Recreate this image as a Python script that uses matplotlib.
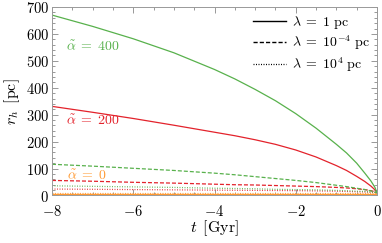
import matplotlib
matplotlib.use("Agg")
import matplotlib.pyplot as plt
from matplotlib.ticker import MultipleLocator, FixedLocator
from matplotlib.lines import Line2D

plt.rcParams['mathtext.fontset'] = 'cm'
plt.rcParams['font.family'] = ['DejaVu Serif']

# time grid [Gyr]
t = [-8, -7, -6, -5, -4, -3.5, -3, -2.5, -2, -1.5, -1, -0.75, -0.5, -0.3, -0.15, -0.05, 0]

# r_h [pc], alpha=400
g_solid  = [670, 628, 582, 530, 468, 433, 394, 352, 304, 250, 190, 158, 120, 83, 54, 30, 10]
g_dashed = [116, 109, 101, 93, 83, 77, 70, 63, 56, 48, 38, 33, 27, 22, 17, 13, 10]
g_dotted = [36, 34, 32, 30, 27, 26, 25, 23, 22, 21, 19, 18, 16, 15, 13, 12, 10]
# alpha=200
r_solid  = [331, 309, 286, 261, 235, 222, 207, 190, 169, 143, 111, 93, 71, 52, 35, 21, 10]
r_dashed = [56, 53, 49, 46, 42, 40, 39, 37, 35, 33, 30, 28, 25, 22, 18, 14, 10]
r_dotted = [24, 23, 22, 21, 20, 19.5, 19, 18.5, 18, 17, 16, 15, 14, 13, 12, 11, 10]
# alpha=0
o_solid  = [7, 7, 7, 7, 7, 7, 7, 7, 7, 7, 7, 7, 7, 7, 7, 7, 7]
o_dashed = [7, 7, 7, 7, 7, 7, 7, 7, 7, 7, 7, 7, 7, 7, 7, 7, 7]
o_dotted = [9, 9, 9, 9, 9, 9, 9, 9, 9, 9, 9, 9, 9, 9, 9, 9, 9]

legend_labels = [r'$\lambda\;=\;1\ \mathrm{pc}$',
                 r'$\lambda\;=\;10^{-4}\ \mathrm{pc}$',
                 r'$\lambda\;=\;10^{4}\ \mathrm{pc}$']
alpha_labels = [r'$\tilde{\alpha}\;=\;400$', r'$\tilde{\alpha}\;=\;200$', r'$\tilde{\alpha}\;=\;0$']
xticks = [-8, -6, -4, -2, 0]
yticks = [0, 100, 200, 300, 400, 500, 600, 700]

GREEN = '#58b14c'
RED = '#e3222b'
ORANGE = '#ff9a33'

fig = plt.figure(figsize=(3.82, 2.43), dpi=100)
ax = fig.add_axes([52/382, 1-195.5/243, (377-52)/382, (195.5-7)/243])

lw = 0.9
dash = (0, (3.2, 1.6))
dot = (0, (0.8, 1.2))
for c, s, d, p in [(ORANGE, o_solid, o_dashed, o_dotted),
                   (RED, r_solid, r_dashed, r_dotted),
                   (GREEN, g_solid, g_dashed, g_dotted)]:
    ax.plot(t, p, color=c, lw=lw, linestyle=dot, alpha=0.85)
    ax.plot(t, d, color=c, lw=lw, linestyle=dash)
    ax.plot(t, s, color=c, lw=lw, linestyle='-')

ax.set_xlim(-8, 0)
ax.set_ylim(0, 700)

ax.xaxis.set_major_locator(FixedLocator(xticks))
ax.set_xticklabels([r'$%d$' % v if v == 0 else r'$-%d$' % abs(v) for v in xticks])
ax.xaxis.set_minor_locator(MultipleLocator(0.5))
ax.yaxis.set_major_locator(FixedLocator(yticks))
ax.set_yticklabels([r'$%d$' % v for v in yticks])
ax.yaxis.set_minor_locator(MultipleLocator(20))

ax.tick_params(which='both', direction='in', top=True, right=True,
               color='#888888', labelsize=10.5, width=0.6)
ax.tick_params(which='major', length=4)
ax.tick_params(which='minor', length=2)
ax.tick_params(axis='x', pad=6)
ax.tick_params(axis='y', pad=2)
for sp in ax.spines.values():
    sp.set_color('#999999')
    sp.set_linewidth(0.7)

ax.set_xlabel(r'$t\ \,[\mathrm{Gyr}]$', fontsize=11.5, labelpad=0)
ax.set_ylabel(r'$r_h\ \,[\mathrm{pc}]$', fontsize=11.5, labelpad=3)

ax.text(-7.0, 551, alpha_labels[0], color=GREEN, fontsize=10, ha='center', va='center')
ax.text(-7.0, 279, alpha_labels[1], color=RED, fontsize=10, ha='center', va='center')
ax.text(-7.14, 74, alpha_labels[2], color=ORANGE, fontsize=10, ha='center', va='center')

handles = [Line2D([], [], color='black', lw=1.0, linestyle='-'),
           Line2D([], [], color='black', lw=1.0, linestyle=(0, (3, 1.5))),
           Line2D([], [], color='black', lw=0.9, linestyle=(0, (0.8, 1.2)))]
ax.legend(handles, legend_labels, loc='upper right', frameon=False,
          fontsize=10, handlelength=2.4, handletextpad=0.45,
          labelspacing=0.2, borderaxespad=0.3, borderpad=0.2)

fig.savefig('out.png', dpi=100)
